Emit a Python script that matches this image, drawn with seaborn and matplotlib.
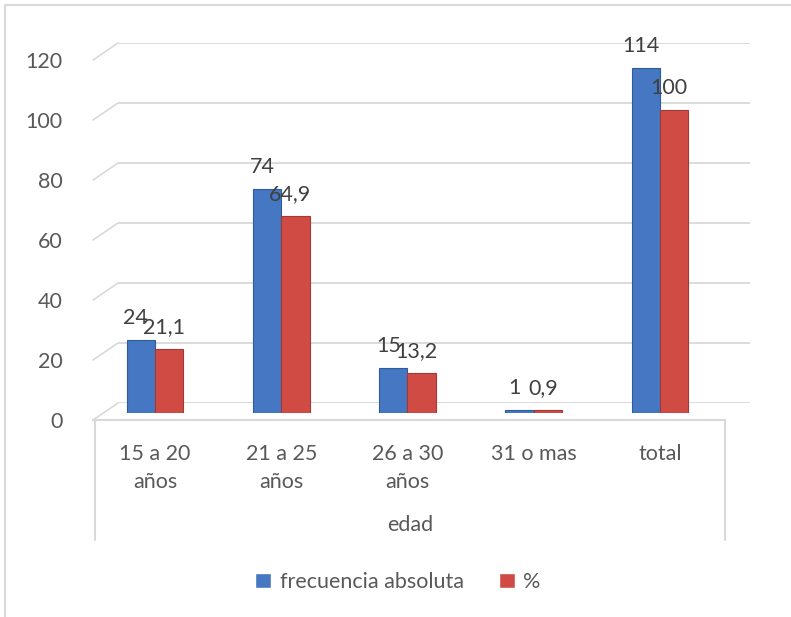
import matplotlib
matplotlib.use("Agg")
import matplotlib.pyplot as plt
from matplotlib.lines import Line2D
from matplotlib.patches import ConnectionPatch
import pandas as pd
import seaborn as sns

# data
categorias = ["15 a 20\naños", "21 a 25\naños", "26 a 30\naños", "31 o mas", "total"]
frecuencia = [24, 74, 15, 1, 114]
porcentaje = [21.1, 64.9, 13.2, 0.9, 100]
series = ["frecuencia absoluta", "%"]
y_ticks = [0, 20, 40, 60, 80, 100, 120]

W, H = 791, 617
GRID = "#D9D9D9"
TXT = "#595959"
LBL = "#404040"
FS = 15.5
colores = {"frecuencia absoluta": "#4677C2", "%": "#D14B45"}
bordes = {"frecuencia absoluta": "#2F5A9C", "%": "#A33934"}


def fx(x):
    return x / W


def fy(y):
    return 1 - y / H


def rect(left, right, zero, top):
    # axes box from pixel coords (y of value 0 and of value 120)
    return [fx(left), fy(zero), (right - left) / W, (zero - top) / H]


def fmt(v):
    return str(int(v)) if float(v).is_integer() else f"{v:.1f}".replace(".", ",")


rows = []
for cat, f, p in zip(categorias, frecuencia, porcentaje):
    rows.append({"edad": cat, "serie": series[0], "valor": f})
    rows.append({"edad": cat, "serie": series[1], "valor": p})
df = pd.DataFrame(rows)

sns.set_theme(style="white")
plt.rcParams["font.family"] = ["Lato", "DejaVu Sans"]
plt.rcParams["font.size"] = FS

fig = plt.figure(figsize=(W / 100, H / 100), dpi=100)

# back wall: gridlines
ax_back = fig.add_axes(rect(118, 750, 403, 43))
ax_back.set_ylim(0, 120)
ax_back.set_xlim(0, 1)
ax_back.set_yticks(y_ticks)
ax_back.set_xticks([])
ax_back.grid(axis="y", color=GRID, lw=1.3)
ax_back.tick_params(left=False, labelleft=False)
for s in ax_back.spines.values():
    s.set_visible(False)
ax_back.patch.set_alpha(0)

# front plane: tick labels and floor edge
ax_front = fig.add_axes(rect(93, 725, 420, 60))
ax_front.set_ylim(0, 120)
ax_front.set_xlim(0, 1)
ax_front.set_yticks(y_ticks)
ax_front.set_xticks([])
ax_front.tick_params(axis="y", left=False, pad=16, labelsize=FS, labelcolor=TXT)
for side in ["top", "left", "right"]:
    ax_front.spines[side].set_visible(False)
ax_front.spines["bottom"].set_color(GRID)
ax_front.spines["bottom"].set_linewidth(1.5)
ax_front.patch.set_alpha(0)

for v in y_ticks:
    con = ConnectionPatch(xyA=(0, v), coordsA="data", axesA=ax_front,
                          xyB=(0, v), coordsB="data", axesB=ax_back,
                          color=GRID, lw=1.2)
    fig.add_artist(con)

# bars
ax = fig.add_axes(rect(105, 737, 413, 413 - 363.6))
sns.barplot(data=df, x="edad", y="valor", hue="serie", order=categorias,
            hue_order=series, palette=colores, width=0.45, saturation=1,
            ax=ax)
for cont, serie in zip(ax.containers, series):
    for bar in cont:
        bar.set_edgecolor(bordes[serie])
        bar.set_linewidth(0.8)
ax.set_xlim(-0.396, 4.61)
ax.set_ylim(0, 120)
ax.set_xlabel("")
ax.set_ylabel("")
ax.set_yticks([])
ax.tick_params(axis="x", bottom=False, pad=16, labelsize=FS, labelcolor=TXT)
for t in ax.get_xticklabels():
    t.set_linespacing(1.55)
for s in ax.spines.values():
    s.set_visible(False)
ax.patch.set_alpha(0)

for cont, vals in zip(ax.containers, [frecuencia, porcentaje]):
    for bar, v in zip(cont, vals):
        ax.annotate(fmt(v), (bar.get_x() + bar.get_width() / 2, bar.get_height()),
                    xytext=(-5, 22), textcoords="offset pixels",
                    ha="center", va="center", fontsize=FS, color=LBL)

leg = ax.get_legend()
handles = leg.legend_handles
labels = [t.get_text() for t in leg.get_texts()]
ax.legend(handles, labels, loc="center", bbox_to_anchor=(fx(398), fy(582)),
          bbox_transform=fig.transFigure, ncol=2, frameon=False,
          handlelength=0.75, handleheight=0.75, handletextpad=0.4,
          columnspacing=1.6, fontsize=FS, labelcolor=TXT)

fig.text(fx(410), fy(525), "edad", ha="center", va="center", fontsize=FS, color=TXT)

for x in (95, 725):
    fig.add_artist(Line2D([fx(x), fx(x)], [fy(420), fy(540)], color=GRID, lw=1.5))
# chart border (top and left visible)
fig.add_artist(Line2D([fx(5), fx(5), 1.0], [0.0, fy(5), fy(5)], color=GRID, lw=1.5))

fig.savefig("out.png", dpi=100)
